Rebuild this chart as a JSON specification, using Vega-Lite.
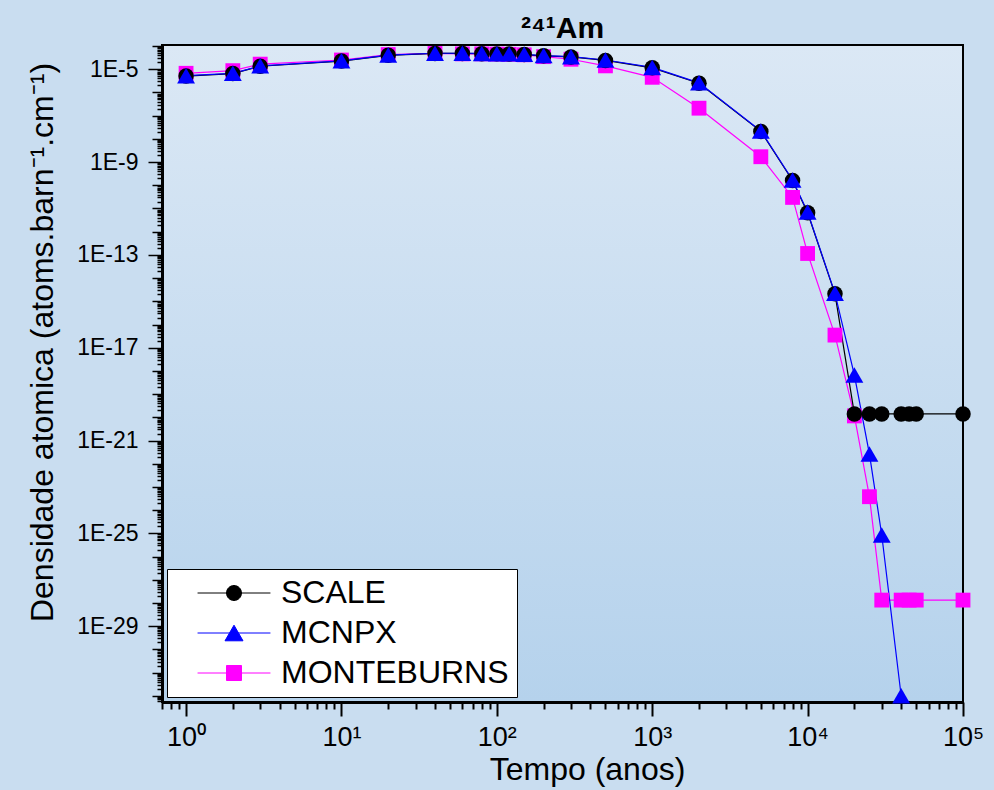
{
  "$schema": "https://vega.github.io/schema/vega-lite/v6.json",
  "width": 801,
  "height": 657,
  "autosize": {"type": "none"},
  "padding": {"left": 162, "top": 45, "right": 31, "bottom": 88},
  "background": "#c9ddf0",
  "config": {
    "view": {
      "stroke": "black",
      "strokeWidth": 2,
      "fill": {
        "gradient": "linear", "x1": 0, "y1": 0, "x2": 0, "y2": 1,
        "stops": [{"offset": 0, "color": "#dbe8f5"}, {"offset": 1, "color": "#b5d2ec"}]
      }
    }
  },
  "title": {
    "text": "²⁴¹Am",
    "font": "Liberation Sans",
    "fontSize": 30,
    "fontWeight": "bold",
    "color": "black",
    "anchor": "middle",
    "offset": 4,
    "dy": 13
  },
  "data": {
    "values": [
      {"t": 1, "s": "MONTEBURNS", "v": 6.7e-6},
      {"t": 2, "s": "MONTEBURNS", "v": 8.7e-6},
      {"t": 3, "s": "MONTEBURNS", "v": 1.66e-5},
      {"t": 10, "s": "MONTEBURNS", "v": 2.5e-5},
      {"t": 20, "s": "MONTEBURNS", "v": 4.3e-5},
      {"t": 40, "s": "MONTEBURNS", "v": 4.8e-5},
      {"t": 60, "s": "MONTEBURNS", "v": 4.6e-5},
      {"t": 80, "s": "MONTEBURNS", "v": 4.6e-5},
      {"t": 100, "s": "MONTEBURNS", "v": 4.5e-5},
      {"t": 120, "s": "MONTEBURNS", "v": 4.4e-5},
      {"t": 150, "s": "MONTEBURNS", "v": 4.2e-5},
      {"t": 200, "s": "MONTEBURNS", "v": 3.5e-5},
      {"t": 300, "s": "MONTEBURNS", "v": 2.7e-5},
      {"t": 500, "s": "MONTEBURNS", "v": 1.4e-5},
      {"t": 1000, "s": "MONTEBURNS", "v": 4.5e-6},
      {"t": 2000, "s": "MONTEBURNS", "v": 2.1e-7},
      {"t": 5000, "s": "MONTEBURNS", "v": 1.7e-9},
      {"t": 8000, "s": "MONTEBURNS", "v": 3.0e-11},
      {"t": 10000, "s": "MONTEBURNS", "v": 1.15e-13},
      {"t": 15000, "s": "MONTEBURNS", "v": 3.5e-17},
      {"t": 20000, "s": "MONTEBURNS", "v": 1.15e-20},
      {"t": 25000, "s": "MONTEBURNS", "v": 3.8e-24},
      {"t": 30000, "s": "MONTEBURNS", "v": 1.33e-28},
      {"t": 40000, "s": "MONTEBURNS", "v": 1.33e-28},
      {"t": 45000, "s": "MONTEBURNS", "v": 1.33e-28},
      {"t": 50000, "s": "MONTEBURNS", "v": 1.33e-28},
      {"t": 100000, "s": "MONTEBURNS", "v": 1.33e-28},
      {"t": 1, "s": "SCALE", "v": 5.1e-6},
      {"t": 2, "s": "SCALE", "v": 6.5e-6},
      {"t": 3, "s": "SCALE", "v": 1.35e-5},
      {"t": 10, "s": "SCALE", "v": 2.25e-5},
      {"t": 20, "s": "SCALE", "v": 4.0e-5},
      {"t": 40, "s": "SCALE", "v": 4.8e-5},
      {"t": 60, "s": "SCALE", "v": 4.8e-5},
      {"t": 80, "s": "SCALE", "v": 4.7e-5},
      {"t": 100, "s": "SCALE", "v": 4.6e-5},
      {"t": 120, "s": "SCALE", "v": 4.5e-5},
      {"t": 150, "s": "SCALE", "v": 4.3e-5},
      {"t": 200, "s": "SCALE", "v": 3.8e-5},
      {"t": 300, "s": "SCALE", "v": 3.4e-5},
      {"t": 500, "s": "SCALE", "v": 2.4e-5},
      {"t": 1000, "s": "SCALE", "v": 1.15e-5},
      {"t": 2000, "s": "SCALE", "v": 2.5e-6},
      {"t": 5000, "s": "SCALE", "v": 2.1e-8},
      {"t": 8000, "s": "SCALE", "v": 1.6e-10},
      {"t": 10000, "s": "SCALE", "v": 6.5e-12},
      {"t": 15000, "s": "SCALE", "v": 2.1e-15},
      {"t": 20000, "s": "SCALE", "v": 1.4e-20},
      {"t": 25000, "s": "SCALE", "v": 1.4e-20},
      {"t": 30000, "s": "SCALE", "v": 1.4e-20},
      {"t": 40000, "s": "SCALE", "v": 1.4e-20},
      {"t": 45000, "s": "SCALE", "v": 1.4e-20},
      {"t": 50000, "s": "SCALE", "v": 1.4e-20},
      {"t": 100000, "s": "SCALE", "v": 1.4e-20},
      {"t": 1, "s": "MCNPX", "v": 5.3e-6},
      {"t": 2, "s": "MCNPX", "v": 6.7e-6},
      {"t": 3, "s": "MCNPX", "v": 1.4e-5},
      {"t": 10, "s": "MCNPX", "v": 2.3e-5},
      {"t": 20, "s": "MCNPX", "v": 4.1e-5},
      {"t": 40, "s": "MCNPX", "v": 4.9e-5},
      {"t": 60, "s": "MCNPX", "v": 4.9e-5},
      {"t": 80, "s": "MCNPX", "v": 4.8e-5},
      {"t": 100, "s": "MCNPX", "v": 4.7e-5},
      {"t": 120, "s": "MCNPX", "v": 4.6e-5},
      {"t": 150, "s": "MCNPX", "v": 4.4e-5},
      {"t": 200, "s": "MCNPX", "v": 3.9e-5},
      {"t": 300, "s": "MCNPX", "v": 3.5e-5},
      {"t": 500, "s": "MCNPX", "v": 2.5e-5},
      {"t": 1000, "s": "MCNPX", "v": 1.2e-5},
      {"t": 2000, "s": "MCNPX", "v": 2.6e-6},
      {"t": 5000, "s": "MCNPX", "v": 2.2e-8},
      {"t": 8000, "s": "MCNPX", "v": 1.7e-10},
      {"t": 10000, "s": "MCNPX", "v": 7e-12},
      {"t": 15000, "s": "MCNPX", "v": 2.2e-15},
      {"t": 20000, "s": "MCNPX", "v": 6.6e-19},
      {"t": 25000, "s": "MCNPX", "v": 2.6e-22},
      {"t": 30000, "s": "MCNPX", "v": 8.5e-26},
      {"t": 40000, "s": "MCNPX", "v": 1e-32}
    ]
  },
  "encoding": {
    "x": {
      "field": "t",
      "type": "quantitative",
      "scale": {"type": "log", "domain": [0.7, 100000], "nice": false},
      "axis": {
        "values": [0.7, 0.8, 0.9, 1, 2, 3, 4, 5, 6, 7, 8, 9, 10, 20, 30, 40, 50, 60, 70, 80, 90, 100, 200, 300, 400, 500, 600, 700, 800, 900, 1000, 2000, 3000, 4000, 5000, 6000, 7000, 8000, 9000, 10000, 20000, 30000, 40000, 50000, 60000, 70000, 80000, 90000, 100000],
        "labelExpr": "abs(log(datum.value)/LN10 - round(log(datum.value)/LN10)) < 0.01 ? '10' + ['⁰','¹','²','³','⁴','⁵'][round(log(datum.value)/LN10)] : ''",
        "labelOverlap": false,
        "labelFlush": false,
        "labelFont": "Liberation Sans",
        "labelFontSize": 27,
        "labelColor": "black",
        "labelPadding": 8,
        "tickSize": {"condition": {"test": "abs(log(datum.value)/LN10 - round(log(datum.value)/LN10)) < 0.01", "value": 14}, "value": 7},
        "tickWidth": 2,
        "tickColor": "black",
        "domainColor": "black",
        "domainWidth": 3,
        "grid": false,
        "title": "Tempo (anos)",
        "titleFont": "Liberation Sans",
        "titleFontSize": 32,
        "titleFontWeight": "normal",
        "titleColor": "black",
        "titlePadding": 4,
        "titleX": 425
      }
    },
    "y": {
      "field": "v",
      "type": "quantitative",
      "scale": {"type": "log", "domain": [5.4e-33, 1.11e-4], "nice": false},
      "axis": {
        "values": [6e-33, 7e-33, 8e-33, 9e-33,
          1e-32, 2e-32, 3e-32, 4e-32, 5e-32, 6e-32, 7e-32, 8e-32, 9e-32,
          1e-31, 2e-31, 3e-31, 4e-31, 5e-31, 6e-31, 7e-31, 8e-31, 9e-31,
          1e-30, 2e-30, 3e-30, 4e-30, 5e-30, 6e-30, 7e-30, 8e-30, 9e-30,
          1e-29, 2e-29, 3e-29, 4e-29, 5e-29, 6e-29, 7e-29, 8e-29, 9e-29,
          1e-28, 2e-28, 3e-28, 4e-28, 5e-28, 6e-28, 7e-28, 8e-28, 9e-28,
          1e-27, 2e-27, 3e-27, 4e-27, 5e-27, 6e-27, 7e-27, 8e-27, 9e-27,
          1e-26, 2e-26, 3e-26, 4e-26, 5e-26, 6e-26, 7e-26, 8e-26, 9e-26,
          1e-25, 2e-25, 3e-25, 4e-25, 5e-25, 6e-25, 7e-25, 8e-25, 9e-25,
          1e-24, 2e-24, 3e-24, 4e-24, 5e-24, 6e-24, 7e-24, 8e-24, 9e-24,
          1e-23, 2e-23, 3e-23, 4e-23, 5e-23, 6e-23, 7e-23, 8e-23, 9e-23,
          1e-22, 2e-22, 3e-22, 4e-22, 5e-22, 6e-22, 7e-22, 8e-22, 9e-22,
          1e-21, 2e-21, 3e-21, 4e-21, 5e-21, 6e-21, 7e-21, 8e-21, 9e-21,
          1e-20, 2e-20, 3e-20, 4e-20, 5e-20, 6e-20, 7e-20, 8e-20, 9e-20,
          1e-19, 2e-19, 3e-19, 4e-19, 5e-19, 6e-19, 7e-19, 8e-19, 9e-19,
          1e-18, 2e-18, 3e-18, 4e-18, 5e-18, 6e-18, 7e-18, 8e-18, 9e-18,
          1e-17, 2e-17, 3e-17, 4e-17, 5e-17, 6e-17, 7e-17, 8e-17, 9e-17,
          1e-16, 2e-16, 3e-16, 4e-16, 5e-16, 6e-16, 7e-16, 8e-16, 9e-16,
          1e-15, 2e-15, 3e-15, 4e-15, 5e-15, 6e-15, 7e-15, 8e-15, 9e-15,
          1e-14, 2e-14, 3e-14, 4e-14, 5e-14, 6e-14, 7e-14, 8e-14, 9e-14,
          1e-13, 2e-13, 3e-13, 4e-13, 5e-13, 6e-13, 7e-13, 8e-13, 9e-13,
          1e-12, 2e-12, 3e-12, 4e-12, 5e-12, 6e-12, 7e-12, 8e-12, 9e-12,
          1e-11, 2e-11, 3e-11, 4e-11, 5e-11, 6e-11, 7e-11, 8e-11, 9e-11,
          1e-10, 2e-10, 3e-10, 4e-10, 5e-10, 6e-10, 7e-10, 8e-10, 9e-10,
          1e-9, 2e-9, 3e-9, 4e-9, 5e-9, 6e-9, 7e-9, 8e-9, 9e-9,
          1e-8, 2e-8, 3e-8, 4e-8, 5e-8, 6e-8, 7e-8, 8e-8, 9e-8,
          1e-7, 2e-7, 3e-7, 4e-7, 5e-7, 6e-7, 7e-7, 8e-7, 9e-7,
          1e-6, 2e-6, 3e-6, 4e-6, 5e-6, 6e-6, 7e-6, 8e-6, 9e-6,
          1e-5, 2e-5, 3e-5, 4e-5, 5e-5, 6e-5, 7e-5, 8e-5, 9e-5,
          1e-4],
        "labelExpr": "abs(log(datum.value)/LN10 - round(log(datum.value)/LN10)) < 0.01 && (round(log(datum.value)/LN10) + 5) % 4 == 0 ? '1E' + round(log(datum.value)/LN10) : ''",
        "labelOverlap": false,
        "labelFlush": false,
        "labelFont": "Liberation Sans",
        "labelFontSize": 23,
        "labelColor": "black",
        "labelPadding": 10,
        "tickSize": {
          "condition": [
            {"test": "abs(log(datum.value)/LN10 - round(log(datum.value)/LN10)) < 0.01 && (round(log(datum.value)/LN10) + 5) % 4 == 0", "value": 14},
            {"test": "abs(log(datum.value)/LN10 - round(log(datum.value)/LN10)) < 0.01", "value": 10}
          ],
          "value": 5
        },
        "tickWidth": 1.5,
        "tickColor": "black",
        "domainColor": "black",
        "domainWidth": 3,
        "grid": false,
        "title": "Densidade atomica (atoms.barn⁻¹.cm⁻¹)",
        "titleFont": "Liberation Sans",
        "titleFontSize": 32,
        "titleFontWeight": "normal",
        "titleColor": "black",
        "titlePadding": 17,
        "titleY": 297
      }
    },
    "color": {
      "field": "s",
      "type": "nominal",
      "scale": {"domain": ["SCALE", "MCNPX", "MONTEBURNS"], "range": ["#000000", "#0000ff", "#ff00ff"]},
      "legend": {
        "title": null,
        "orient": "bottom-left",
        "offset": 5,
        "fillColor": "white",
        "strokeColor": "black",
        "padding": 8,
        "labelFont": "Liberation Sans",
        "labelFontSize": 32,
        "labelColor": "black",
        "labelLimit": 0,
        "labelOffset": 31,
        "symbolSize": 900,
        "symbolOffset": 43,
        "symbolStrokeWidth": 1,
        "rowPadding": 8,
        "encode": {
          "symbols": {
            "update": {
              "shape": {"signal": "datum.value === 'SCALE' ? 'M-2.43,0L2.43,0M-0.5,0A0.5,0.5,0,1,1,0.5,0A0.5,0.5,0,1,1,-0.5,0Z' : datum.value === 'MCNPX' ? 'M-2.43,0L2.43,0M0,-0.52L0.6,0.52L-0.6,0.52Z' : 'M-2.43,0L2.43,0M-0.5,-0.5L0.5,-0.5L0.5,0.5L-0.5,0.5Z'"},
              "size": {"value": 900},
              "strokeWidth": {"value": 1},
              "opacity": {"value": 1}
            }
          }
        }
      }
    }
  },
  "layer": [
    {
      "mark": {"type": "line", "strokeWidth": 1.2},
      "encoding": {}
    },
    {
      "mark": {"type": "point", "filled": true, "opacity": 1},
      "encoding": {
        "shape": {"condition": [{"test": "datum.s === 'SCALE'", "value": "circle"}, {"test": "datum.s === 'MCNPX'", "value": "triangle-up"}], "value": "square"},
        "size": {"condition": [{"test": "datum.s === 'SCALE'", "value": 240}, {"test": "datum.s === 'MCNPX'", "value": 320}], "value": 220}
      }
    }
  ]
}
